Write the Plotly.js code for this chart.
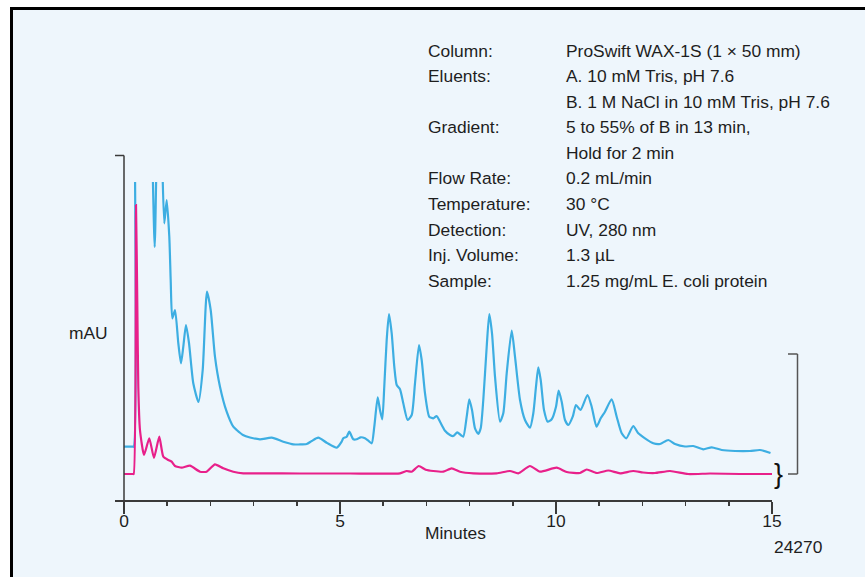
<!DOCTYPE html>
<html>
<head>
<meta charset="utf-8">
<script src="https://cdn.plot.ly/plotly-3.0.1.min.js"></script>
<style>
  html, body { margin: 0; padding: 0; background: #ffffff; }
  #chart { width: 865px; height: 577px; }
</style>
</head>
<body>
<div id="chart"></div>
<script>
// ---- Data (time in minutes, absorbance in relative mAU units) ----
// null = trace off-scale (not drawn in the original)
const blueTime = [0, 0.201, 0.225, 0.255, 0.46, 0.664, 0.711, 0.748, 0.82, 0.891, 0.933, 0.988, 1.049, 1.081, 1.118, 1.181, 1.257, 1.319, 1.373, 1.435, 1.505, 1.604, 1.725, 1.822, 1.921, 2.007, 2.106, 2.222, 2.377, 2.530, 2.609, 2.755, 2.917, 3.148, 3.419, 3.688, 3.919, 4.229, 4.345, 4.498, 4.692, 4.924, 5.039, 5.076, 5.155, 5.215, 5.308, 5.387, 5.479, 5.579, 5.655, 5.734, 5.794, 5.873, 5.926, 5.979, 6.025, 6.081, 6.134, 6.197, 6.257, 6.313, 6.389, 6.465, 6.567, 6.660, 6.736, 6.829, 6.891, 6.968, 7.067, 7.160, 7.238, 7.315, 7.431, 7.546, 7.623, 7.715, 7.794, 7.854, 7.933, 7.993, 8.056, 8.125, 8.201, 8.257, 8.317, 8.396, 8.456, 8.519, 8.588, 8.704, 8.780, 8.859, 8.975, 9.051, 9.167, 9.282, 9.398, 9.475, 9.537, 9.590, 9.646, 9.722, 9.808, 9.900, 10.000, 10.062, 10.132, 10.208, 10.285, 10.387, 10.463, 10.567, 10.729, 10.826, 10.938, 11.035, 11.134, 11.289, 11.405, 11.521, 11.627, 11.789, 11.905, 12.060, 12.252, 12.407, 12.600, 12.755, 12.986, 13.178, 13.410, 13.604, 13.836, 14.144, 14.491, 14.722, 14.965];
const blueMAU = [53.3, 53.3, 53.3, 330, null, 330, 253, 330, null, 330, 276.7, 300, 263.3, 220, 181.7, 190, 157, 136.7, 153.3, 175, 157, 116.7, 98, 130, 208.3, 190, 143.3, 113.3, 88.3, 73.3, 70, 65, 62.5, 60.7, 62.3, 58.3, 55.7, 56, 59, 62.3, 57.3, 52.3, 58.3, 61.7, 63.3, 68.3, 60.7, 60.7, 62.7, 61.7, 59.3, 56.7, 73.3, 102.7, 90, 80.7, 113.3, 160, 186, 166.7, 133.3, 115, 110.7, 96.7, 80, 85, 116.7, 155, 140, 106.7, 83.3, 81.7, 84, 78.3, 69.3, 65, 64, 67.7, 65, 63.3, 83.3, 100.7, 90, 71.7, 66, 71.7, 100, 153.3, 186, 166.7, 123.3, 78.3, 86.7, 126.7, 169.3, 143.3, 100, 80, 72.3, 86.7, 113.3, 132.7, 120, 90, 78.3, 80.7, 93.3, 109.3, 98.3, 80, 75, 83.3, 95, 90, 105, 93.3, 73.3, 81.7, 88.3, 100.7, 83.3, 66.7, 61.7, 74, 66.7, 61.7, 56.7, 56, 60, 56, 53.5, 54, 50.7, 52.7, 50, 49, 49, 50, 47];

const redTime = [0, 0.201, 0.225, 0.278, 0.308, 0.331, 0.370, 0.463, 0.586, 0.694, 0.817, 0.910, 1.025, 1.104, 1.181, 1.336, 1.528, 1.759, 1.914, 2.106, 2.299, 2.530, 2.762, 3.225, 4.074, 5.231, 6.389, 6.544, 6.660, 6.822, 6.984, 7.160, 7.391, 7.586, 7.778, 8.086, 8.627, 8.935, 9.127, 9.398, 9.630, 10.016, 10.248, 10.556, 10.711, 10.942, 11.211, 11.481, 11.789, 12.014, 12.292, 12.639, 13.056, 13.565, 14.259, 15.0];
const redMAU = [26, 26, 26, 295, 197, 113.3, 70, 45, 61.7, 42, 63.3, 43.3, 40, 38.3, 34, 32.3, 34.3, 28.3, 28.3, 35.7, 31.7, 28.3, 26.7, 26.7, 26.5, 26.5, 26.7, 29, 28.3, 34, 30.3, 29, 28.3, 31.7, 28.3, 26.7, 26.7, 29, 26.7, 34, 28.3, 32.3, 28, 27, 30.5, 27, 29.5, 26.7, 29, 27.5, 27, 29, 26, 26.5, 26, 26];

const majorTicks = [0, 5, 10, 15];
const tickLabels = ['0', '5', '10', '15'];

const infoLabels = ['Column:', 'Eluents:', '', 'Gradient:', '', 'Flow Rate:', 'Temperature:', 'Detection:', 'Inj. Volume:', 'Sample:'];
const infoValues = ['ProSwift WAX-1S (1 × 50 mm)', 'A. 10 mM Tris, pH 7.6', 'B. 1 M NaCl in 10 mM Tris, pH 7.6', '5 to 55% of B in 13 min,', 'Hold for 2 min', '0.2 mL/min', '30 °C', 'UV, 280 nm', '1.3 µL', '1.25 mg/mL E. coli protein'];

// ---- Layout geometry helpers ----
const W = 865, H = 577;
const M = { l: 115, r: 93, t: 182, b: 77 };
const PW = W - M.l - M.r, PH = H - M.t - M.b;
const px2x = px => (px - M.l) / PW;
const py2y = py => (H - M.b - py) / PH;

const FONT = 'Liberation Sans, Arial, Helvetica, sans-serif';
const TXT = '#1e1e1e';
const AX = '#3a3a3a';
const FS = 17.4;

const traces = [
  { x: blueTime, y: blueMAU, type: 'scatter', mode: 'lines', connectgaps: false,
    line: { color: '#3daee2', width: 2.2, shape: 'spline', smoothing: 0.6 }, hoverinfo: 'skip', showlegend: false },
  { x: redTime, y: redMAU, type: 'scatter', mode: 'lines',
    line: { color: '#e8208a', width: 2.2, shape: 'spline', smoothing: 0.5 }, hoverinfo: 'skip', showlegend: false }
];

const annotations = [];
const lineY0 = 50.5, lineStep = 25.6;
infoLabels.forEach((t, i) => {
  if (t) annotations.push({ text: t, xref: 'paper', yref: 'paper', x: px2x(426), y: py2y(lineY0 + i * lineStep),
    xanchor: 'left', yanchor: 'middle', showarrow: false, font: { family: FONT, size: FS, color: TXT } });
});
infoValues.forEach((t, i) => {
  annotations.push({ text: t, xref: 'paper', yref: 'paper', x: px2x(564), y: py2y(lineY0 + i * lineStep),
    xanchor: 'left', yanchor: 'middle', showarrow: false, font: { family: FONT, size: FS, color: TXT } });
});
annotations.push({ text: 'mAU', xref: 'paper', yref: 'paper', x: px2x(88), y: py2y(333),
  xanchor: 'center', yanchor: 'middle', showarrow: false, font: { family: FONT, size: FS, color: TXT } });
annotations.push({ text: 'Minutes', xref: 'paper', yref: 'paper', x: px2x(455), y: py2y(533),
  xanchor: 'center', yanchor: 'middle', showarrow: false, font: { family: FONT, size: FS, color: TXT } });
annotations.push({ text: '24270', xref: 'paper', yref: 'paper', x: px2x(772), y: py2y(547),
  xanchor: 'left', yanchor: 'middle', showarrow: false, font: { family: FONT, size: FS, color: TXT } });
annotations.push({ text: '}', xref: 'paper', yref: 'paper', x: px2x(778), y: py2y(474),
  xanchor: 'center', yanchor: 'middle', showarrow: false, font: { family: FONT, size: 27, color: '#111' } });

const shapes = [
  // panel background with top/left frame
  { type: 'rect', xref: 'paper', yref: 'paper', x0: px2x(11.5), x1: px2x(880), y0: py2y(8.5), y1: py2y(590),
    fillcolor: '#eef6fc', line: { color: '#000', width: 3 }, layer: 'below' },
  // y axis line (extends below x axis)
  { type: 'line', xref: 'paper', yref: 'paper', x0: px2x(124), x1: px2x(124), y0: py2y(155.5), y1: py2y(512),
    line: { color: AX, width: 1.5 } },
  // y axis top tick
  { type: 'line', xref: 'paper', yref: 'paper', x0: px2x(115), x1: px2x(124), y0: py2y(155.5), y1: py2y(155.5),
    line: { color: AX, width: 1.5 } },
  // scale bracket on the right
  { type: 'line', xref: 'paper', yref: 'paper', x0: px2x(797.5), x1: px2x(797.5), y0: py2y(354), y1: py2y(474),
    line: { color: '#555', width: 1.5 } },
  { type: 'line', xref: 'paper', yref: 'paper', x0: px2x(788), x1: px2x(797.5), y0: py2y(354), y1: py2y(354),
    line: { color: '#555', width: 1.5 } },
  { type: 'line', xref: 'paper', yref: 'paper', x0: px2x(788), x1: px2x(797.5), y0: py2y(474), y1: py2y(474),
    line: { color: '#555', width: 1.5 } }
];

const layout = {
  width: W, height: H,
  margin: M,
  paper_bgcolor: '#ffffff',
  plot_bgcolor: 'rgba(0,0,0,0)',
  showlegend: false,
  hovermode: false,
  font: { family: FONT, size: FS, color: TXT },
  xaxis: {
    range: [-0.208, 15], showgrid: false, zeroline: false,
    showline: true, linecolor: AX, linewidth: 1.5,
    tickmode: 'array', tickvals: majorTicks, ticktext: tickLabels,
    ticks: 'outside', ticklen: 12, tickwidth: 1.5, tickcolor: AX,
    ticklabelstandoff: -7,
    tickfont: { family: FONT, size: FS, color: TXT },
    minor: { dtick: 1, tick0: 0, ticks: 'outside', ticklen: 4, tickwidth: 1.5, tickcolor: AX, showgrid: false },
    fixedrange: true
  },
  yaxis: {
    range: [0, 318], visible: false, showgrid: false, zeroline: false, fixedrange: true
  },
  annotations: annotations,
  shapes: shapes
};

Plotly.newPlot('chart', traces, layout, { displayModeBar: false, staticPlot: true });
</script>
</body>
</html>
